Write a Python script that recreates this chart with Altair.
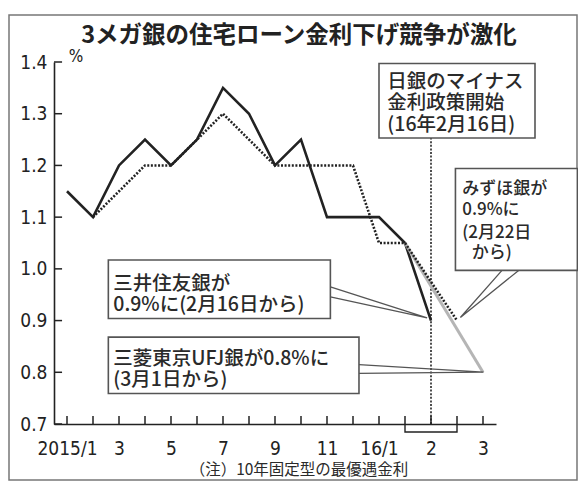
import json
import altair as alt
import pandas as pd

# ---------------- data ----------------
month_index = list(range(17))
month_labels = ["2015/1", "", "3", "", "5", "", "7", "", "9", "", "11", "", "16/1", "", "2", "", "3"]
rate_ticks = [0.7, 0.8, 0.9, 1.0, 1.1, 1.2, 1.3, 1.4]

smbc_x = list(range(15))
smbc_y = [1.15, 1.10, 1.20, 1.25, 1.20, 1.25, 1.35, 1.30, 1.20, 1.25, 1.10, 1.10, 1.10, 1.05, 0.90]
mizuho_x = [1, 2, 3, 4, 5, 6, 7, 8, 9, 10, 11, 12, 13, 15]
mizuho_y = [1.10, 1.15, 1.20, 1.20, 1.25, 1.30, 1.25, 1.20, 1.20, 1.20, 1.20, 1.05, 1.05, 0.90]
mufg_x = [13, 16]
mufg_y = [1.05, 0.80]

boj_date_x = 14  # 2016-02-16

title_text = "3メガ銀の住宅ローン金利下げ競争が激化"
note_text = "（注）10年固定型の最優遇金利"
unit_text = "%"

# annotation boxes (data units: month index / %)
box_x1 = [12.0, 14.94, 1.59, 1.59]
box_x2 = [18.0, 19.63, 10.13, 11.23]
box_y1 = [1.253, 0.997, 0.904, 0.759]
box_y2 = [1.397, 1.194, 1.017, 0.868]

note_lines = ["日銀のマイナス", "金利政策開始", "(16年2月16日)",
              "みずほ銀が", "0.9%に", "(2月22日", "から)",
              "三井住友銀が", "0.9%に(2月16日から)",
              "三菱東京UFJ銀が0.8%に", "(3月1日から)"]
note_x = [12.32, 12.32, 12.32, 15.2, 15.2, 15.2, 15.57, 1.78, 1.78, 1.78, 1.78]
note_y = [1.362, 1.320, 1.278, 1.155, 1.113, 1.070, 1.030, 0.9715, 0.931, 0.826, 0.7855]
note_size = [19.5, 19.5, 19.5, 17, 17, 17, 17, 19.5, 19.5, 19.5, 19.5]

ptr_group = ["miz", "miz", "miz", "smbc", "smbc", "smbc", "mufg", "mufg", "mufg"]
ptr_x = [16.73, 15.13, 17.37, 10.13, 13.85, 10.13, 11.23, 16.02, 11.23]
ptr_y = [0.997, 0.906, 0.997, 0.965, 0.905, 0.946, 0.815, 0.8005, 0.798]

bracket_x = [13, 13, 15, 15]
bracket_y = [0.7, 0.6845, 0.6845, 0.7]

# ---------------- build ----------------
NARROW = "Liberation Sans Narrow, DejaVu Sans Condensed, sans-serif"
JP = "Noto Sans CJK JP"
INK = "#222222"

xs = alt.Scale(domain=[-0.5, 16.5], nice=False, zero=False)
ys = alt.Scale(domain=[0.7, 1.4], nice=False, zero=False)

label_expr = json.dumps(month_labels) + "[datum.value]"

x_axis = alt.Axis(values=list(range(0, 17, 2)), labelExpr=label_expr, ticks=False, tickSize=0,
                  grid=False, title=None, domainColor=INK, domainWidth=1.6, zindex=2,
                  labelFont=NARROW, labelFontSize=19, labelColor=INK, labelPadding=15,
                  labelFlush=False, labelOverlap=False)
y_axis = alt.Axis(values=rate_ticks, format=".1f", ticks=False, tickSize=0, grid=False,
                  title=None, domainColor=INK, domainWidth=1.6, zindex=2,
                  labelFont=NARROW, labelFontSize=19, labelColor=INK, labelPadding=7,
                  labelFlush=False, labelOverlap=False)

one = alt.Data(values=[{"a": 1}])

frame = alt.Chart(one).mark_rect(fill="#ffffff", stroke="#777777", strokeWidth=1.5).encode(
    x=alt.value(-45), x2=alt.value(523), y=alt.value(-47), y2=alt.value(418))

base_df = pd.DataFrame({"x": smbc_x, "y": smbc_y})
solid = alt.Chart(base_df).mark_line(color=INK, strokeWidth=2.6, strokeJoin="miter").encode(
    x=alt.X("x:Q", scale=xs, axis=x_axis),
    y=alt.Y("y:Q", scale=ys, axis=y_axis))

dotted = alt.Chart(pd.DataFrame({"x": mizuho_x, "y": mizuho_y})).mark_line(
    color=INK, strokeWidth=2.6, strokeDash=[2, 1.6]).encode(x=alt.X("x:Q", scale=xs), y=alt.Y("y:Q", scale=ys))

gray = alt.Chart(pd.DataFrame({"x": mufg_x, "y": mufg_y})).mark_line(
    color="#b5b5b5", strokeWidth=3).encode(x=alt.X("x:Q", scale=xs), y=alt.Y("y:Q", scale=ys))

tick_len_y = 0.0155
tick_len_x = 0.31
xt = pd.DataFrame({"x": month_index})
xt["y"] = 0.7
xt["y2"] = 0.7 + tick_len_y
xticks = alt.Chart(xt).mark_rule(color=INK, strokeWidth=1.5).encode(
    x=alt.X("x:Q", scale=xs), y=alt.Y("y:Q", scale=ys), y2="y2")

yt = pd.DataFrame({"y": rate_ticks})
yt["x"] = -0.5
yt["x2"] = -0.5 + tick_len_x
yticks = alt.Chart(yt).mark_rule(color=INK, strokeWidth=1.5).encode(
    y=alt.Y("y:Q", scale=ys), x=alt.X("x:Q", scale=xs), x2="x2")

bracket = alt.Chart(pd.DataFrame({"x": bracket_x, "y": bracket_y, "i": range(4)})).mark_line(
    color=INK, strokeWidth=1.4).encode(x=alt.X("x:Q", scale=xs), y=alt.Y("y:Q", scale=ys), order="i:Q")

vrule = alt.Chart(pd.DataFrame({"x": [boj_date_x], "y": [0.7], "y2": [box_y1[0]]})).mark_rule(
    color=INK, strokeWidth=1.6, strokeDash=[2, 1.6]).encode(
    x=alt.X("x:Q", scale=xs), y=alt.Y("y:Q", scale=ys), y2="y2")

pdf = pd.DataFrame({"g": ptr_group, "x": ptr_x, "y": ptr_y, "i": range(len(ptr_x))})
pointers = alt.Chart(pdf).mark_line(color="#555555", strokeWidth=1.3).encode(
    x=alt.X("x:Q", scale=xs), y=alt.Y("y:Q", scale=ys), detail="g:N", order="i:Q")

bdf = pd.DataFrame({"x1": box_x1, "x2": box_x2, "y1": box_y1, "y2": box_y2})
boxes = alt.Chart(bdf).mark_rect(fill="#ffffff", stroke="#555555", strokeWidth=1.6).encode(
    x=alt.X("x1:Q", scale=xs), x2="x2", y=alt.Y("y1:Q", scale=ys), y2="y2")

tdf = pd.DataFrame({"t": note_lines, "x": note_x, "y": note_y, "s": note_size})
texts = alt.Chart(tdf).mark_text(align="left", baseline="middle", font=JP, color="#2a2a2a",
                                 fontWeight=500).encode(
    x=alt.X("x:Q", scale=xs), y=alt.Y("y:Q", scale=ys), text="t:N",
    size=alt.Size("s:Q", scale=None, legend=None))

title = alt.Chart(one).mark_text(font=JP, fontSize=23.5, fontWeight="bold", color=INK,
                                 align="center", baseline="middle").encode(
    x=alt.value(245), y=alt.value(-26), text=alt.value(title_text))

note = alt.Chart(one).mark_text(font=JP, fontSize=15.5, color="#2a2a2a",
                                align="center", baseline="middle").encode(
    x=alt.value(245), y=alt.value(408), text=alt.value(note_text))

unit = alt.Chart(one).mark_text(font=NARROW, fontSize=17, color=INK,
                                align="center", baseline="middle").encode(
    x=alt.value(22), y=alt.value(-5), text=alt.value(unit_text))

chart = alt.layer(
    frame, solid, xticks, yticks, bracket, vrule, gray, dotted, pointers, boxes, texts,
    title, note, unit
).properties(
    width=442, height=362,
    autosize=alt.AutoSizeParams(type="none"),
    padding={"left": 46, "top": 54, "right": 82, "bottom": 58},
    background="#ffffff",
).configure_view(stroke=None)

chart.save("out.html", embed_options={"renderer": "svg", "actions": False})
